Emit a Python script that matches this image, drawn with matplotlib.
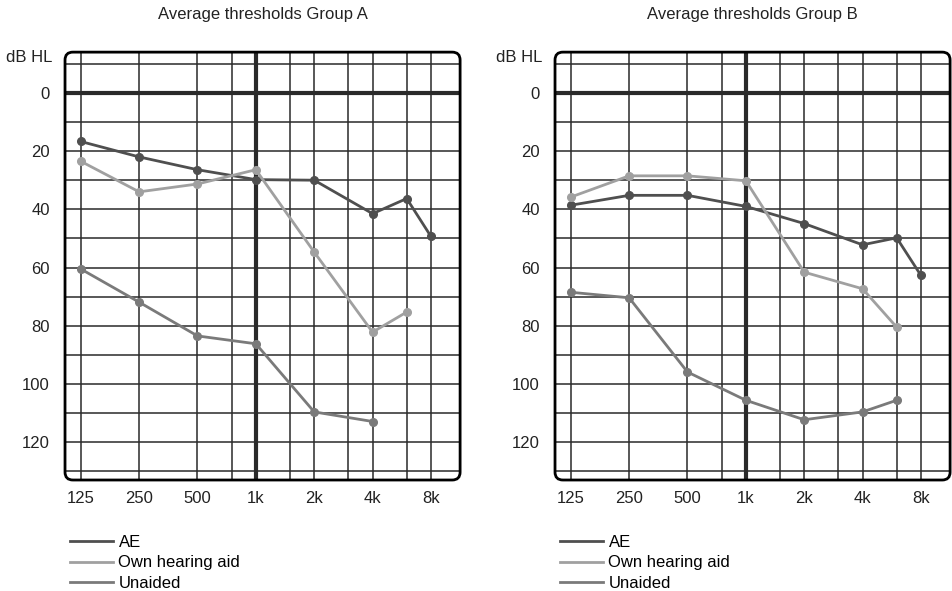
import numpy as np
import matplotlib
matplotlib.use("Agg")
import matplotlib.pyplot as plt
from matplotlib.patches import FancyBboxPatch
from matplotlib.lines import Line2D

plt.rcParams['font.family'] = ['Liberation Sans', 'DejaVu Sans']

freqs = [125, 250, 500, 1000, 2000, 4000, 6000, 8000]
freq_labels = ['125', '250', '500', '1k', '2k', '4k', '8k']
label_freqs = [125, 250, 500, 1000, 2000, 4000, 8000]
grid_freqs = [125, 250, 500, 750, 1000, 1500, 2000, 3000, 4000, 6000, 8000]

# Group A (dB HL), None = no measurement
a_ae = [16.7, 22, 26.4, 29.8, 30, 41.5, 36.3, 49.3]
a_own = [23.5, 34, 31.3, 26.4, 54.7, 82.2, 75.3, None]
a_unaided = [60.5, 71.9, 83.5, 86.2, 109.6, 112.9, None, None]

# Group B
b_ae = [38.6, 35.2, 35.2, 39, 44.9, 52.2, 49.8, 62.7]
b_own = [35.8, 28.5, 28.5, 30.2, 61.6, 67.3, 80.5, None]
b_unaided = [68.5, 70.4, 95.9, 105.6, 112.3, 109.6, 105.6, None]

series_names = ['AE', 'Own hearing aid', 'Unaided']
colors = ['#4f4f4f', '#a0a0a0', '#7a7a7a']


def xpos(f):
    return np.log2(np.array(f, dtype=float) / 125)


def draw_audiogram(ax, title, data):
    ax.set_xlim(-0.27, 6.5)
    ax.set_ylim(133, -14)
    for s in ax.spines.values():
        s.set_visible(False)

    for g in grid_freqs:
        ax.axvline(xpos(g), color='#2a2a2a', lw=3 if g == 1000 else 1.1, zorder=1)
    for d in range(-10, 131, 10):
        ax.axhline(d, color='#2a2a2a', lw=3 if d == 0 else 1.1, zorder=1)

    for vals, c in zip(data, colors):
        pts = [(f, v) for f, v in zip(freqs, vals) if v is not None]
        xs = xpos([p[0] for p in pts])
        ys = [p[1] for p in pts]
        ax.plot(xs, ys, color=c, lw=2, marker='o', ms=5.5, zorder=3)

    frame = FancyBboxPatch((0, 0), 1, 1, boxstyle='round,pad=0,rounding_size=0.02',
                           transform=ax.transAxes, fill=False, lw=2, ec='black',
                           clip_on=False, zorder=4, mutation_aspect=395 / 428)
    ax.add_patch(frame)

    ax.set_yticks(range(0, 121, 20))
    ax.set_xticks(xpos(label_freqs))
    ax.set_xticklabels(freq_labels)
    ax.tick_params(length=0, labelsize=12, colors='#222222')
    ax.tick_params(axis='y', pad=11)
    ax.tick_params(axis='x', pad=8)

    ax.text(-0.033, -12, 'dB HL', transform=ax.get_yaxis_transform(),
            ha='right', va='center', fontsize=12, color='#222222')
    ax.set_title(title, fontsize=12, pad=24, color='#222222')

    handles = [Line2D([], [], color=c, lw=2) for c in colors]
    ax.legend(handles, series_names, loc='upper left', bbox_to_anchor=(0.013, -0.128),
              frameon=False, fontsize=12, borderaxespad=0, borderpad=0,
              handlelength=2.6, handletextpad=0.3, labelspacing=0.34)


fig = plt.figure(figsize=(9.52, 5.91), dpi=100)
ax1 = fig.add_axes([0.0683, 0.1878, 0.415, 0.724])
ax2 = fig.add_axes([0.583, 0.1878, 0.415, 0.724])

draw_audiogram(ax1, 'Average thresholds Group A', [a_ae, a_own, a_unaided])
draw_audiogram(ax2, 'Average thresholds Group B', [b_ae, b_own, b_unaided])

fig.savefig('out.png', dpi=100)
